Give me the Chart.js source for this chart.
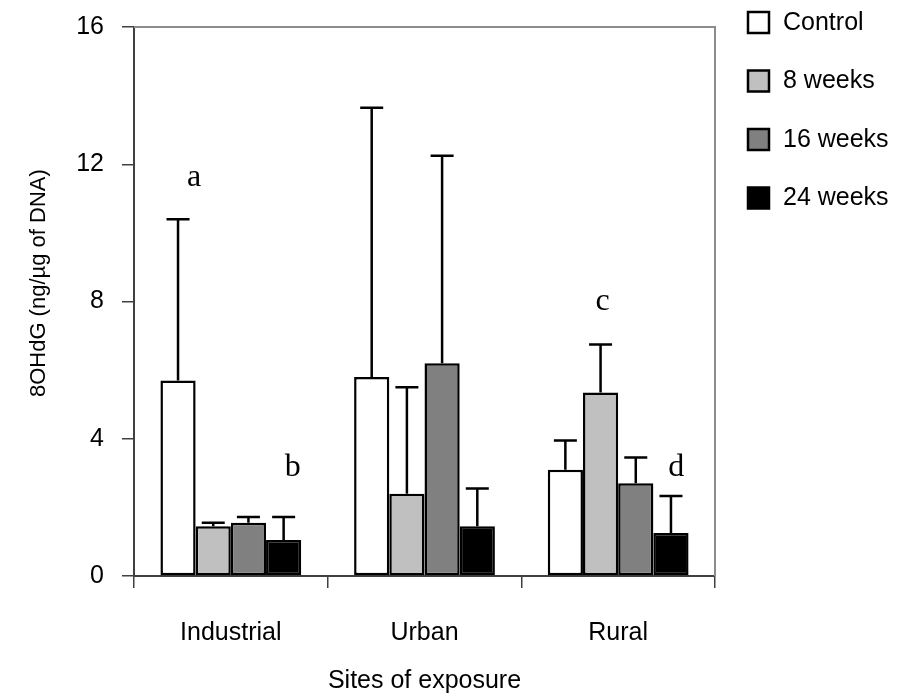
<!DOCTYPE html>
<html>
<head>
<meta charset="utf-8">
<script src="https://cdn.jsdelivr.net/npm/chart.js@4.4.1/dist/chart.umd.min.js"></script>
<style>
  html, body { margin: 0; padding: 0; background: #fff; }
  #wrap { width: 904px; height: 696px; }
</style>
</head>
<body>
<div id="wrap"><canvas id="dnaChart"></canvas></div>
<script>
const sites = ['Industrial', 'Urban', 'Rural'];
const seriesNames = ['Control', '8 weeks', '16 weeks', '24 weeks'];
const control = [5.7, 5.8, 3.1];
const weeks8 = [1.45, 2.4, 5.35];
const weeks16 = [1.55, 6.2, 2.7];
const weeks24 = [1.05, 1.45, 1.25];
const controlErr = [4.7, 7.85, 0.85];
const weeks8Err = [0.1, 3.1, 1.4];
const weeks16Err = [0.17, 6.05, 0.75];
const weeks24Err = [0.67, 1.1, 1.08];
const yTicks = [0, 4, 8, 12, 16];

// significance letters: which site, shift inside the site, height on the y axis
const letters = ['a', 'b', 'c', 'd'];
const letterSites = [0, 0, 2, 2];
const letterShift = [-0.19, 0.32, -0.08, 0.30];
const letterHeights = [11.6, 3.15, 8.0, 3.15];

const sans = "'Liberation Sans', Arial, sans-serif";

const errorBars = {
    id: 'errorBars',
    afterDatasetsDraw(chart) {
        const { ctx } = chart;
        const y = chart.scales.y;
        ctx.save();
        ctx.strokeStyle = '#000';
        ctx.lineWidth = 2.5;
        chart.data.datasets.forEach((ds, i) => {
            chart.getDatasetMeta(i).data.forEach((bar, j) => {
                const top = y.getPixelForValue(ds.data[j] + ds.errors[j]);
                ctx.beginPath();
                ctx.moveTo(bar.x, bar.y);
                ctx.lineTo(bar.x, top);
                ctx.moveTo(bar.x - 11.5, top);
                ctx.lineTo(bar.x + 11.5, top);
                ctx.stroke();
            });
        });
        ctx.restore();
    }
};

const letterMarks = {
    id: 'letterMarks',
    afterDatasetsDraw(chart) {
        const { ctx } = chart;
        const { x, y } = chart.scales;
        const siteWidth = x.width / sites.length;
        ctx.save();
        ctx.fillStyle = '#000';
        ctx.font = "32px 'Liberation Serif', 'Times New Roman', serif";
        ctx.textAlign = 'center';
        ctx.textBaseline = 'middle';
        letters.forEach((t, i) => {
            const px = x.getPixelForValue(letterSites[i]) + letterShift[i] * siteWidth;
            ctx.fillText(t, px, y.getPixelForValue(letterHeights[i]));
        });
        ctx.restore();
    }
};

const plotFrame = {
    id: 'plotFrame',
    beforeDatasetsDraw(chart) {
        const { ctx, chartArea: a } = chart;
        ctx.save();
        ctx.strokeStyle = '#8c8c8c';
        ctx.lineWidth = 2;
        ctx.beginPath();
        ctx.moveTo(a.left, a.top);
        ctx.lineTo(a.right, a.top);
        ctx.lineTo(a.right, a.bottom);
        ctx.stroke();
        ctx.restore();
    }
};

const sideLegend = {
    id: 'sideLegend',
    afterDraw(chart) {
        const { ctx } = chart;
        ctx.save();
        ctx.font = '25px ' + sans;
        ctx.textBaseline = 'middle';
        ctx.textAlign = 'left';
        chart.data.datasets.forEach((ds, i) => {
            const cy = 22 + i * 58.5;
            ctx.fillStyle = ds.backgroundColor;
            ctx.fillRect(748, cy - 10, 21, 21);
            ctx.strokeStyle = '#000';
            ctx.lineWidth = 2.5;
            ctx.strokeRect(748, cy - 10, 21, 21);
            ctx.fillStyle = '#000';
            ctx.fillText(ds.label, 783, cy + 1);
        });
        ctx.restore();
    }
};

const fills = ['#ffffff', '#c0c0c0', '#808080', '#000000'];
const values = [control, weeks8, weeks16, weeks24];
const errors = [controlErr, weeks8Err, weeks16Err, weeks24Err];

new Chart(document.getElementById('dnaChart'), {
    type: 'bar',
    data: {
        labels: sites,
        datasets: seriesNames.map((name, i) => ({
            label: name,
            data: values[i],
            errors: errors[i],
            backgroundColor: fills[i],
            borderColor: '#000',
            borderWidth: 2.5,
            borderSkipped: false
        }))
    },
    options: {
        responsive: true,
        maintainAspectRatio: false,
        animation: false,
        layout: { padding: { top: 27, right: 189, bottom: 0, left: 0 } },
        datasets: { bar: { categoryPercentage: 0.727, barPercentage: 1 } },
        plugins: {
            legend: { display: false },
            tooltip: { enabled: false }
        },
        scales: {
            x: {
                offset: true,
                grid: { offset: true, drawOnChartArea: false, tickLength: 12, color: '#404040', lineWidth: 1.5 },
                border: { color: '#404040', width: 2 },
                ticks: { color: '#000', padding: 30, font: { size: 25, family: sans } },
                title: {
                    display: true, text: 'Sites of exposure', color: '#000',
                    font: { size: 25, family: sans }, padding: { top: 2, bottom: 0 }
                },
                afterFit: s => { s.height = 120; }
            },
            y: {
                min: 0,
                max: 16,
                afterBuildTicks: s => { s.ticks = yTicks.map(v => ({ value: v })); },
                grid: { drawOnChartArea: false, tickLength: 12, color: '#404040', lineWidth: 1.5 },
                border: { color: '#404040', width: 2 },
                ticks: { color: '#000', padding: 18, font: { size: 25, family: sans } },
                title: {
                    display: true, text: '      8OHdG (ng/µg of DNA)', color: '#000',
                    font: { size: 22, family: sans }, padding: { top: 26, bottom: 0 }
                },
                afterFit: s => { s.width = 134; s.paddingTop = 0; s.paddingBottom = 0; }
            }
        }
    },
    plugins: [plotFrame, errorBars, letterMarks, sideLegend]
});
</script>
</body>
</html>
